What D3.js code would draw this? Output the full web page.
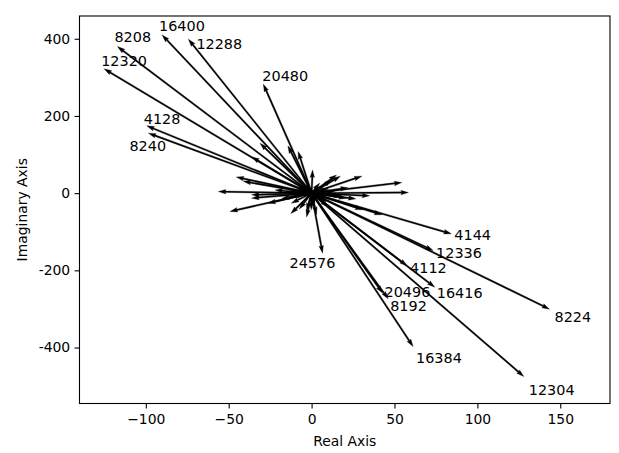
<!DOCTYPE html>
<html>
<head>
<meta charset="utf-8">
<script src="https://cdn.jsdelivr.net/npm/d3@7/dist/d3.min.js"></script>
<style>
  html, body { margin: 0; padding: 0; background: #fff; }
  svg { display: block; font-family: "DejaVu Sans", sans-serif; }
</style>
</head>
<body>
<svg id="chart" width="619" height="453"></svg>
<script>
// ---------- data ----------
const labels = ["16400","8208","12320","12288","20480","4128","8240","4144","12336","4112","16416","20496","8192","8224","16384","12304","24576"];
const labeledRe = [-90.2,-117.1,-125.1,-74.3,-29.1,-99.4,-98.4,84.3,73.3,57.6,74.3,42.8,46.2,143.5,61.2,128.0,6.6];
const labeledIm = [410.0,379.8,322.0,399.0,282.4,174.4,155.4,-105.4,-148.7,-188.3,-243.5,-259.0,-273.8,-300.5,-397.4,-475.0,-155.4];

const otherRe = [-31.1,-36.1,-14.3,-8.1,0.6,-45.4,-41.2,-56.2,-36.2,-36.2,-49.2,-26.3,-12.5,-7.4,-3.0,-0.2,-12.2,
                 17.3,30.3,54.4,58.4,4.9,12.2,15.0,26.7,21.0,35.0,42.4,30.9,1.2,-3.0,3.0,-10.0,10.0,
                 5,-6,8,-4,10,-12,3,14,-15,6,-8,18,-18,9,22,-22,2,-3];
const otherIm = [129.5,94.0,122.5,107.8,60.0,41.6,30.8,4.0,-4.4,-13.0,-47.4,-26.0,-53.0,-41.0,-45.0,-43.0,-26.0,
                 44.0,44.0,27.4,1.5,26.0,34.0,47.0,-14.8,-13.0,-7.0,-56.0,-43.0,-36.0,-62.0,-55.0,8.0,-35.0,
                 8,4,-3,-7,12,-10,-15,5,3,18,15,-8,-14,-22,14,8,-25,22];

const xTicks = [-100,-50,0,50,100,150];
const xTickLabels = ["\u2212100","\u221250","0","50","100","150"];
const yTicks = [400,200,0,-200,-400];
const yTickLabels = ["400","200","0","-200","-400"];

// ---------- layout ----------
const margin = {left: 79.5, right: 610, top: 16, bottom: 403.5};
// label text offsets from the arrow tip (px): [dx, dy to baseline]
const labelOffsets = [[-3,-4],[-3,-5],[-3,-3],[8,10],[-1,-3],[-3,-2],[-19,18],[3,6],[3,7],[3,7],[2,11],[2,4],[2,12],[5,13],[3,16],[5,19],[-33,15]];

const svg = d3.select("#chart");
const x = d3.scaleLinear().domain([-140, 180]).range([margin.left, margin.right]);
const y = d3.scaleLinear().domain([-545, 459]).range([margin.bottom, margin.top]);

const fs = 13.9;
const labelFs = 14.4;

svg.append("defs").append("clipPath").attr("id","clip")
  .append("rect").attr("x", margin.left).attr("y", margin.top)
  .attr("width", margin.right - margin.left).attr("height", margin.bottom - margin.top);

const vectors = [];
otherRe.forEach((r,i) => vectors.push({re: r, im: otherIm[i]}));
labeledRe.forEach((r,i) => vectors.push({re: r, im: labeledIm[i]}));

// quiver-style arrow polygon
const w = 1.5, hl = 5*w, hal = 4.5*w, hw = 3*w;
function arrowPath(L) {
  let s = 1;
  if (L < hl) s = L / hl;
  const a = hal*s, b = hl*s, ww = w*s/2, hh = hw*s/2;
  const pts = [[0,-ww],[L-a,-ww],[L-b,-hh],[L,0],[L-b,hh],[L-a,ww],[0,ww]];
  return "M" + pts.map(p => p[0].toFixed(2)+","+p[1].toFixed(2)).join("L") + "Z";
}

const g = svg.append("g").attr("clip-path","url(#clip)");
vectors.forEach(v => {
  const x0 = x(0), y0 = y(0), x1 = x(v.re), y1 = y(v.im);
  const dx = x1 - x0, dy = y1 - y0;
  const L = Math.hypot(dx, dy);
  const ang = Math.atan2(dy, dx) * 180 / Math.PI;
  g.append("path")
    .attr("d", arrowPath(L))
    .attr("transform", `translate(${x0},${y0}) rotate(${ang})`)
    .attr("fill", "#000").attr("stroke", "#000").attr("stroke-width", 0.3);
});

// labels
labels.forEach((t,i) => {
  svg.append("text")
    .attr("x", x(labeledRe[i]) + labelOffsets[i][0])
    .attr("y", y(labeledIm[i]) + labelOffsets[i][1])
    .attr("font-size", labelFs).attr("fill", "#000")
    .text(t);
});

// axes frame
svg.append("rect").attr("x", margin.left).attr("y", margin.top)
  .attr("width", margin.right - margin.left).attr("height", margin.bottom - margin.top)
  .attr("fill","none").attr("stroke","#000").attr("stroke-width",1.1);

// x axis
const xAxis = d3.axisBottom(x).tickValues(xTicks).tickFormat((d,i) => xTickLabels[i]).tickSize(4.9).tickPadding(6);
const gx = svg.append("g").attr("transform", `translate(0,${margin.bottom})`).call(xAxis);
gx.select(".domain").remove();
gx.selectAll("line").attr("stroke","#000").attr("stroke-width",1.1);
gx.selectAll("text").attr("font-size", fs).attr("font-family","DejaVu Sans").attr("fill","#000");

// y axis
const yAxis = d3.axisLeft(y).tickValues(yTicks).tickFormat((d,i) => yTickLabels[i]).tickSize(4.9).tickPadding(4.4);
const gy = svg.append("g").attr("transform", `translate(${margin.left},0)`).call(yAxis);
gy.select(".domain").remove();
gy.selectAll("line").attr("stroke","#000").attr("stroke-width",1.1);
gy.selectAll("text").attr("font-size", fs).attr("font-family","DejaVu Sans").attr("fill","#000");

// axis titles
svg.append("text").attr("x", (margin.left + margin.right)/2).attr("y", 446)
  .attr("text-anchor","middle").attr("font-size", fs).text("Real Axis");
svg.append("text").attr("transform", `translate(27,${(margin.top+margin.bottom)/2}) rotate(-90)`)
  .attr("text-anchor","middle").attr("font-size", fs).text("Imaginary Axis");
</script>
</body>
</html>
